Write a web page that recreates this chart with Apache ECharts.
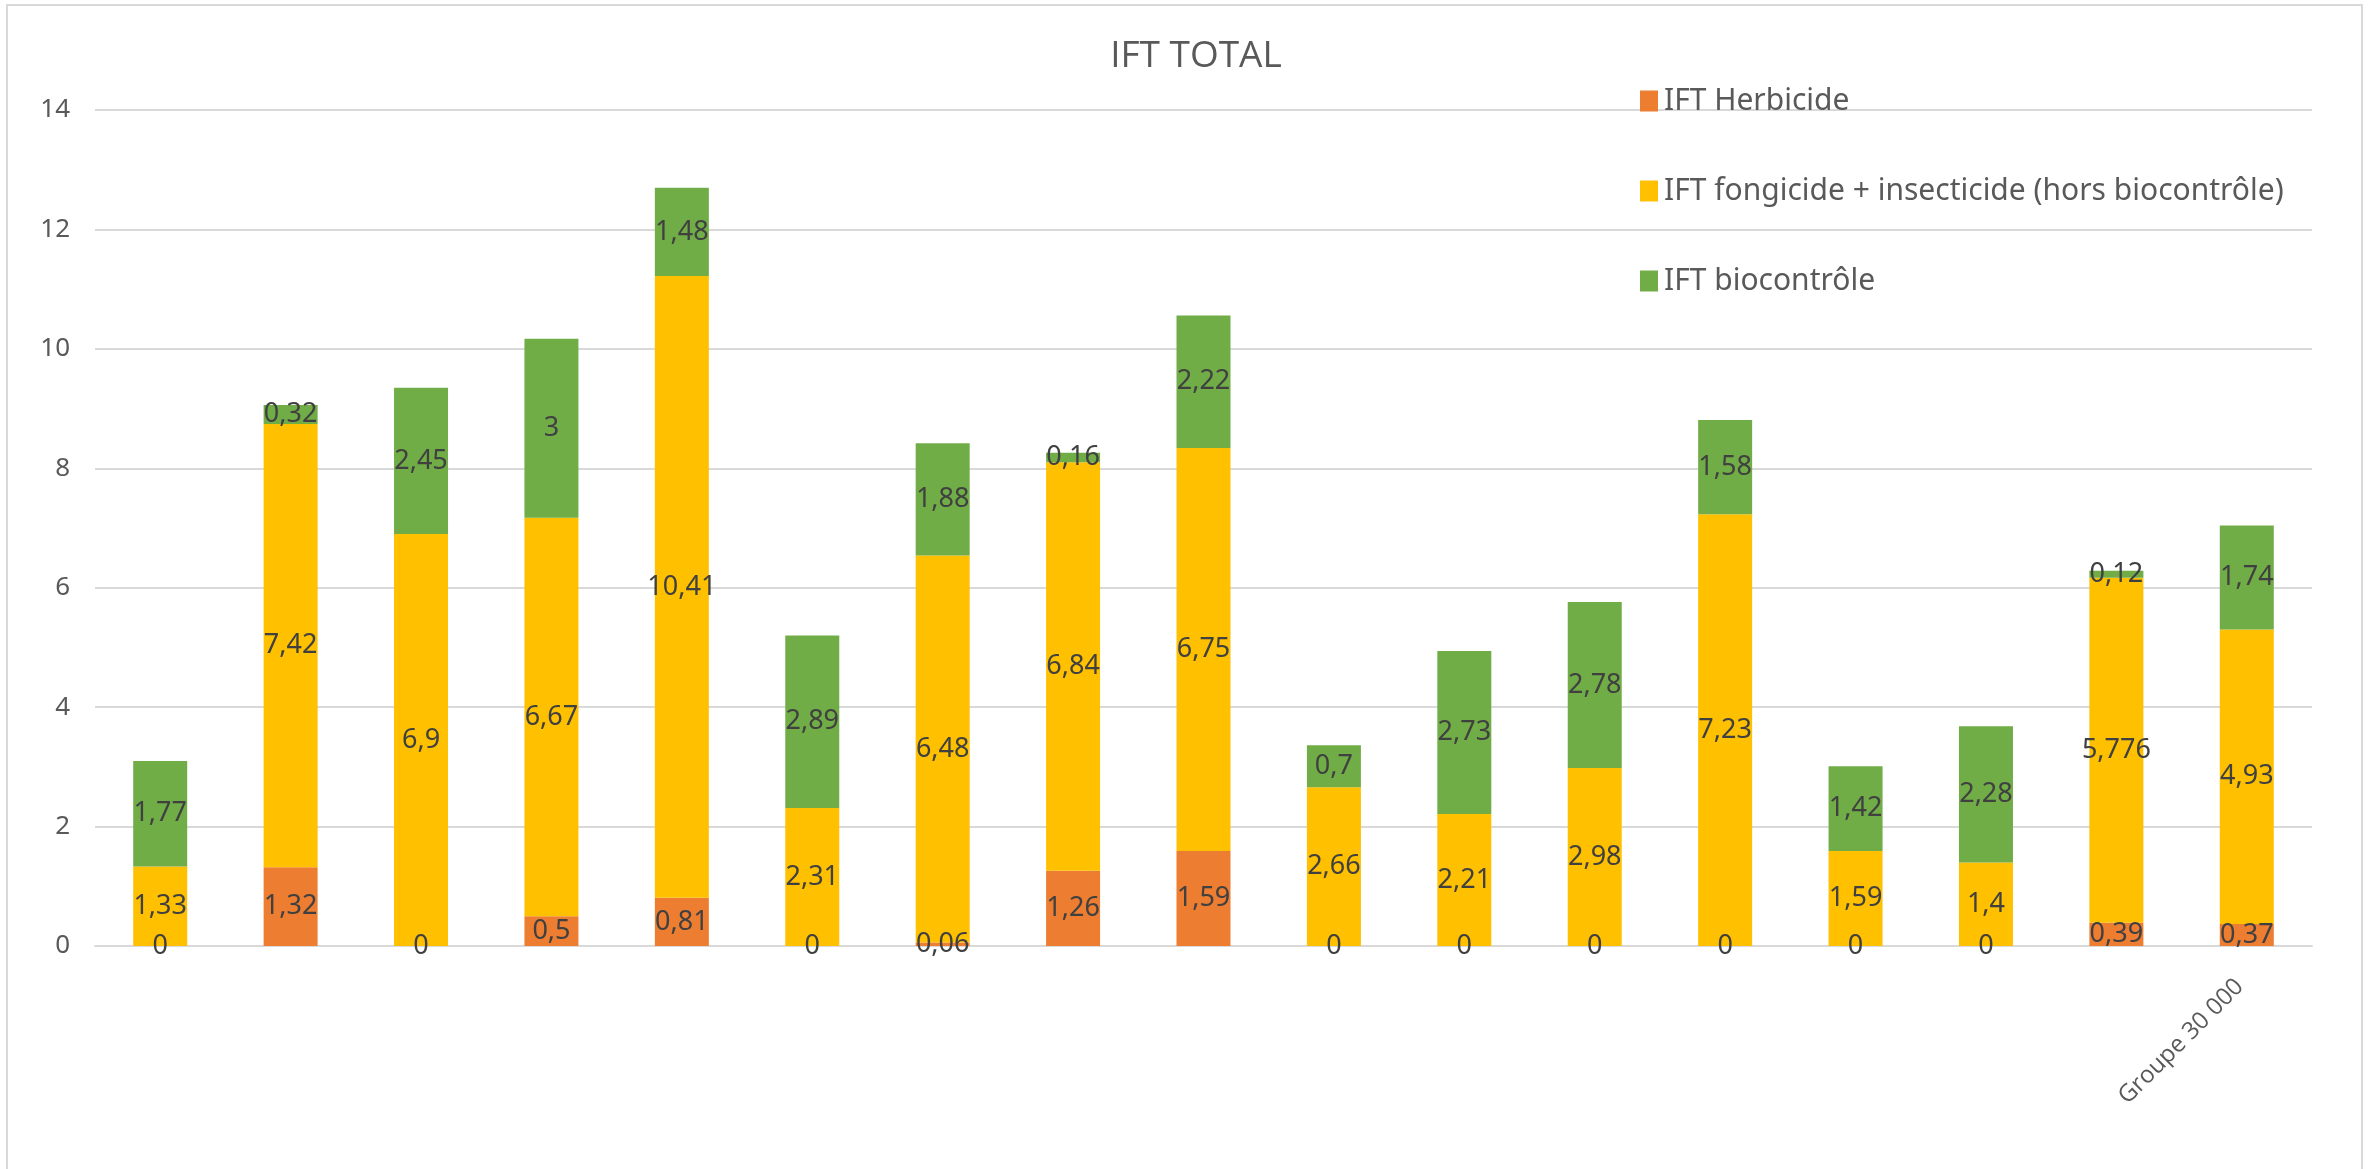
<!DOCTYPE html>
<html>
<head>
<meta charset="utf-8">
<script src="https://cdn.jsdelivr.net/npm/echarts@6/dist/echarts.min.js"></script>
<style>
  html, body { margin: 0; padding: 0; background: #fff; }
  #chart { width: 2369px; height: 1169px; }
</style>
</head>
<body>
<div id="chart"></div>
<script>
let chart = echarts.init(document.querySelector("#chart"))

// categories (only the last one has a name)
let groupes = ['', '', '', '', '', '', '', '', '', '', '', '', '', '', '', '', 'Groupe 30 000']

let herbicide = [0, 1.32, 0, 0.5, 0.81, 0, 0.06, 1.26, 1.59, 0, 0, 0, 0, 0, 0, 0.39, 0.37]
let fongicide = [1.33, 7.42, 6.9, 6.67, 10.41, 2.31, 6.48, 6.84, 6.75, 2.66, 2.21, 2.98, 7.23, 1.59, 1.4, 5.776, 4.93]
let biocontrole = [1.77, 0.32, 2.45, 3, 1.48, 2.89, 1.88, 0.16, 2.22, 0.7, 2.73, 2.78, 1.58, 1.42, 2.28, 0.12, 1.74]

let yTicks = [0, 2, 4, 6, 8, 10, 12, 14]

const FONT = "'Noto Sans', sans-serif"

function serie(name, data, color) {
    return {
        name: name,
        type: 'bar',
        stack: 'total',
        barWidth: 54,
        data: data,
        itemStyle: { color: color },
        label: {
            show: true,
            position: 'inside',
            color: '#404040',
            fontSize: 27,
            fontFamily: FONT,
            formatter: (p) => String(p.value).replace('.', ',')
        }
    }
}

let option = {
    backgroundColor: '#fff',
    animation: false,
    title: {
        text: 'IFT TOTAL',
        left: 1191,
        top: 33,
        textAlign: 'center',
        textStyle: { color: '#595959', fontSize: 37, fontWeight: 'normal', fontFamily: "'Open Sans', sans-serif" }
    },
    legend: {
        orient: 'vertical',
        left: 1635,
        top: 81,
        itemWidth: 18,
        itemHeight: 21,
        itemGap: 60,
        icon: 'rect',
        textStyle: { color: '#595959', fontSize: 30, lineHeight: 30, fontFamily: FONT, padding: [0, 0, 0, 1] }
    },
    graphic: [{
        type: 'rect',
        shape: { x: 7, y: 5, width: 2355, height: 1180 },
        style: { fill: 'none', stroke: '#d9d9d9', lineWidth: 2 },
        silent: true
    }],
    grid: { left: 95, right: 57, top: 110, bottom: 223, containLabel: false },
    xAxis: {
        type: 'category',
        data: groupes,
        axisLine: { lineStyle: { color: '#d9d9d9', width: 2 } },
        axisTick: { show: false },
        axisLabel: {
            interval: 0,
            rotate: 45,
            color: '#595959',
            fontSize: 24,
            fontFamily: "'Open Sans', sans-serif",
            margin: 30,
            padding: [0, 10, 0, 0]
        }
    },
    yAxis: {
        type: 'value',
        min: yTicks[0],
        max: yTicks[yTicks.length - 1],
        interval: 2,
        axisLine: { show: false },
        axisTick: { show: false },
        splitLine: { lineStyle: { color: '#d9d9d9', width: 2 } },
        axisLabel: { color: '#595959', fontSize: 26, fontFamily: FONT, margin: 25 }
    },
    series: [
        serie('IFT Herbicide', herbicide, '#ED7D31'),
        serie('IFT fongicide + insecticide (hors biocontrôle)', fongicide, '#FFC000'),
        serie('IFT biocontrôle', biocontrole, '#70AD47')
    ]
};
chart.setOption(option);
</script>
</body>
</html>
